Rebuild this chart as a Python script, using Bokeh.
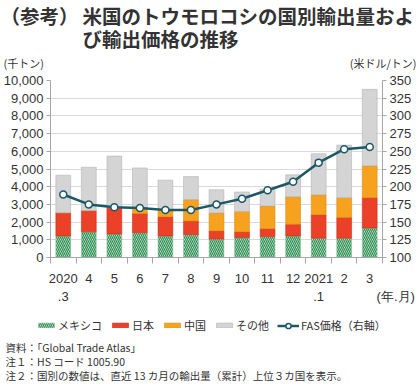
import numpy as np
from bokeh.plotting import figure
from bokeh.layouts import column
from bokeh.models import (ColumnDataSource, Range1d, LinearAxis, FixedTicker,
                          NumeralTickFormatter, Legend, LegendItem, Label)
from bokeh.embed import file_html
from bokeh.resources import INLINE

# ---- data ----
months = ["2020\n.3", "4", "5", "6", "7", "8", "9", "10", "11", "12", "2021\n.1", "2", "3"]
mexico = [1220, 1450, 1330, 1400, 1220, 1290, 1040, 1130, 1180, 1220, 1090, 1090, 1670]
japan = [1310, 1200, 1480, 1090, 1080, 770, 465, 320, 450, 660, 1330, 1170, 1710]
china = [0, 0, 30, 290, 410, 1210, 1010, 1150, 1280, 1550, 1120, 1120, 1800]
other = [2120, 2450, 2890, 2280, 1660, 1300, 1310, 1100, 955, 1240, 2320, 2970, 4320]
fas_price = [189, 175, 171, 170, 167, 167, 175, 183, 195, 207, 234, 253, 256]

left_ticks = list(range(0, 10001, 1000))
right_ticks = list(range(100, 351, 25))
unit_x = "(年.月)"
legend_labels = ["メキシコ", "日本", "中国", "その他", "FAS価格（右軸）"]
notes = ["資料：「Global Trade Atlas」",
         "注１：HS コード 1005.90",
         "注２：国別の数値は、直近 13 カ月の輸出量（累計）上位３カ国を表示。"]

TXT = "#333333"
JP = "Noto Sans CJK JP"
NUM = "Liberation Sans"
AX = "#a6a6a6"
SP = "\u3000"
C_MEX_FILL, C_MEX_HATCH, C_MEX_LINE = "#e8f3ea", "#2f8f55", "#8cc49c"
C_JPN, C_JPN_LINE = "#ea4128", "#c9301c"
C_CHN, C_CHN_LINE = "#f6a21f", "#dc8c12"
C_OTH, C_OTH_LINE = "#d4d4d4", "#b4b4b4"
C_FAS = "#1c5866"

W = 420

x = np.arange(len(months))
t0 = np.array(mexico, dtype=float)
t1 = t0 + np.array(japan, dtype=float)
t2 = t1 + np.array(china, dtype=float)
t3 = t2 + np.array(other, dtype=float)
src = ColumnDataSource(dict(x=x, t0=t0, t1=t1, t2=t2, t3=t3, price=fas_price))


def blank_fig(h):
    f = figure(width=W, height=h, x_range=Range1d(0, W), y_range=Range1d(h, 0),
               output_backend="svg", toolbar_location=None, min_border=0,
               frame_align=False)
    f.axis.visible = False
    f.grid.visible = False
    f.outline_line_color = None
    return f


def lab(f, text, xx, yy, size, align="left", style="normal"):
    f.add_layout(Label(x=xx, y=yy, text=text, text_font=JP, text_font_size=size,
                       text_color=TXT, text_align=align, text_baseline="middle",
                       text_font_style=style))


# ---------------- top: title + unit labels ----------------
top = blank_fig(72)
lab(top, "（参考）", 0, 15, "19.5px", style="bold")
lab(top, "米国のトウモロコシの国別輸出量およ", 82, 15, "19.5px", style="bold")
lab(top, "び輸出価格の推移", 82, 38, "19.5px", style="bold")
lab(top, "(千トン)", 3, 62, "11px")
lab(top, "(米ドル/トン)", 416, 62, "11px", align="right")


# ---------------- main chart ----------------
def bars(f, **kw):
    rs = [f.vbar(x="x", bottom=0, top="t0", width=0.58, source=src,
                 fill_color=C_MEX_FILL, hatch_pattern="\\", hatch_color=C_MEX_HATCH,
                 hatch_scale=4, hatch_weight=1.3, line_color=C_MEX_LINE, line_width=0.6, **kw),
          f.vbar(x="x", bottom="t0", top="t1", width=0.58, source=src,
                 fill_color=C_JPN, line_color=C_JPN_LINE, line_width=0.6, **kw),
          f.vbar(x="x", bottom="t1", top="t2", width=0.58, source=src,
                 fill_color=C_CHN, line_color=C_CHN_LINE, line_width=0.6, **kw),
          f.vbar(x="x", bottom="t2", top="t3", width=0.58, source=src,
                 fill_color=C_OTH, line_color=C_OTH_LINE, line_width=0.6, **kw)]
    return rs


def price_line(f, **kw):
    return [f.line(x="x", y="price", source=src, line_color=C_FAS, line_width=2.5, **kw),
            f.scatter(x="x", y="price", source=src, marker="circle", size=7,
                      fill_color="white", line_color=C_FAS, line_width=1.5, **kw)]


p = figure(width=W, height=234, output_backend="svg", toolbar_location=None,
           x_range=Range1d(-0.5, len(months) - 0.5), y_range=Range1d(0, 10000),
           min_border_left=50, min_border_right=38, min_border_top=8, min_border_bottom=40,
           frame_align=False)
p.extra_y_ranges = {"price": Range1d(100, 350)}
p.outline_line_color = None
p.xgrid.grid_line_color = None
p.ygrid.grid_line_color = "#d9d9d9"
p.ygrid.ticker = FixedTicker(ticks=left_ticks)

bars(p)
price_line(p, y_range_name="price")

p.yaxis.ticker = FixedTicker(ticks=left_ticks)
p.yaxis.formatter = NumeralTickFormatter(format="0,0")
right = LinearAxis(y_range_name="price", ticker=FixedTicker(ticks=right_ticks))
p.add_layout(right, "right")

minor = [float(v) - 0.5 for v in x] + [float(x[-1]) + 0.5]
p.xaxis.ticker = FixedTicker(ticks=[int(v) for v in x], minor_ticks=minor)
overrides = {int(i): s for i, s in enumerate(months)}
# the unit label shares the second label row, right of the last month
overrides[len(months) - 1] = months[-1] + "\n" + SP * 4 + unit_x
p.xaxis.major_label_overrides = overrides

for ax in [p.xaxis[0], p.yaxis[0], right]:
    ax.axis_line_color = AX
    ax.major_tick_line_color = AX
    ax.major_tick_out = 4
    ax.major_tick_in = 0
    ax.minor_tick_line_color = None
    ax.major_label_text_font = NUM
    ax.major_label_text_font_size = "13px"
    ax.major_label_text_color = TXT
    ax.major_label_standoff = 3
p.xaxis.major_tick_line_color = None
p.xaxis.minor_tick_line_color = AX
p.xaxis.minor_tick_out = 6
p.xaxis.minor_tick_in = 0
p.xaxis.major_label_standoff = 7

# ---------------- bottom: legend + notes ----------------
bot = blank_fig(81)
# hidden proxies carrying the same styles, used only for the legend glyphs
d_bars = bars(bot, visible=False)
d_line = price_line(bot, visible=False)

common = dict(orientation="horizontal", padding=0, margin=0, border_line_color=None,
              background_fill_alpha=0, label_text_font=JP, label_text_font_size="11px",
              label_text_color=TXT, label_height=16, label_standoff=2)
leg1 = Legend(items=[LegendItem(label=legend_labels[i], renderers=[d_bars[i]]) for i in range(4)],
              location=(36, 54), glyph_width=20, glyph_height=6, spacing=8, **common)
leg2 = Legend(items=[LegendItem(label=legend_labels[4], renderers=d_line)],
              location=(277, 54), glyph_width=22, glyph_height=13, **common)
bot.add_layout(leg1, "center")
bot.add_layout(leg2, "center")

for i, note in enumerate(notes):
    lab(bot, note, 5, 41 + 14 * i, "10.5px")

layout = column(top, p, bot, spacing=0)
open("out.html", "w").write(file_html(layout, INLINE))
